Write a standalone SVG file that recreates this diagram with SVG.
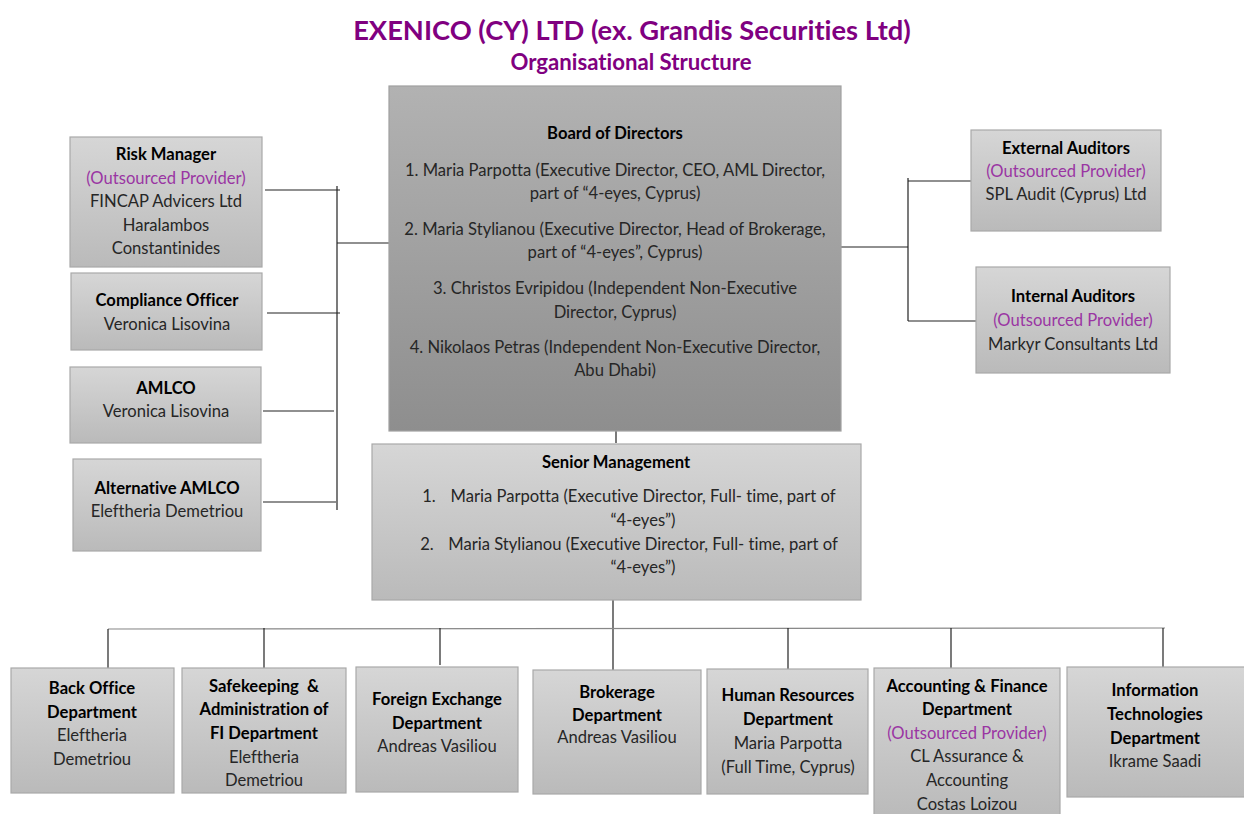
<svg xmlns="http://www.w3.org/2000/svg" width="1244" height="814" viewBox="0 0 1244 814">
<defs>
<linearGradient id="gBox" x1="0" y1="0" x2="0" y2="1">
<stop offset="0" stop-color="#d6d6d6"/>
<stop offset="1" stop-color="#bababa"/>
</linearGradient>
<linearGradient id="gBoard" x1="0" y1="0" x2="0" y2="1">
<stop offset="0" stop-color="#b2b2b2"/>
<stop offset="1" stop-color="#8e8e8e"/>
</linearGradient>
<style>
text{font-family:Lato,"Open Sans","Liberation Sans",sans-serif;font-size:16.6px;fill:#262626;text-anchor:middle;font-variant-ligatures:none;font-feature-settings:"liga" 0,"clig" 0}
.b{font-weight:bold;fill:#000}
.p{fill:#9a35a3}
.box{fill:url(#gBox);stroke:#a9a9a9;stroke-width:1.2}
.board{fill:url(#gBoard);stroke:#a0a0a0;stroke-width:1.2}
.t1{font-size:27.3px;font-weight:bold;fill:#800080}
.t2{font-size:22.2px;font-weight:bold;fill:#800080}
#connectors line{stroke:#222;stroke-width:1.2}
#connectors .g{stroke:#888}
</style>
</defs>
<rect width="1244" height="814" fill="#fff"/>
<g id="title">
<text class="t1" x="632" y="40">EXENICO (CY) LTD (ex. Grandis Securities Ltd)</text>
<text class="t2" x="631" y="70">Organisational Structure</text>
</g>
<g id="connectors">
<line x1="337" y1="186" x2="337" y2="510"/>
<line x1="265" y1="190" x2="340" y2="190"/>
<line x1="337" y1="243" x2="389" y2="243"/>
<line x1="267" y1="313" x2="340" y2="313"/>
<line x1="263" y1="411" x2="334" y2="411"/>
<line x1="263" y1="502" x2="336" y2="502"/>
<line x1="841" y1="247" x2="908" y2="247"/>
<line x1="908" y1="178" x2="908" y2="321"/>
<line x1="908" y1="181" x2="971" y2="181"/>
<line x1="908" y1="321" x2="976" y2="321"/>
<line x1="616" y1="421" x2="616" y2="443"/>
<line x1="613" y1="598" x2="613" y2="670"/>
<line class="g" x1="108" y1="629" x2="1165" y2="628"/>
<line x1="108" y1="629" x2="108" y2="668"/>
<line x1="264" y1="628" x2="264" y2="670"/>
<line x1="440" y1="628" x2="440" y2="665"/>
<line x1="788" y1="628" x2="788" y2="669"/>
<line x1="951" y1="628" x2="951" y2="668"/>
<line x1="1163" y1="628" x2="1163" y2="667"/>
</g>
<g id="board">
<rect class="board" x="389" y="86" width="452" height="345"/>
<text class="b" x="615" y="139">Board of Directors</text>
<text x="615" y="176">1. Maria Parpotta (Executive Director, CEO, AML Director,</text>
<text x="615" y="199">part of “4-eyes, Cyprus)</text>
<text x="615" y="235">2. Maria Stylianou (Executive Director, Head of Brokerage,</text>
<text x="615" y="258">part of “4-eyes”, Cyprus)</text>
<text x="615" y="294">3. Christos Evripidou (Independent Non-Executive</text>
<text x="615" y="318">Director, Cyprus)</text>
<text x="615" y="353">4. Nikolaos Petras (Independent Non-Executive Director,</text>
<text x="615" y="376">Abu Dhabi)</text>
</g>
<g id="risk">
<rect class="box" x="70" y="137" width="192" height="130"/>
<text class="b" x="166" y="160">Risk Manager</text>
<text class="p" x="166" y="184">(Outsourced Provider)</text>
<text x="166" y="207">FINCAP Advicers Ltd</text>
<text x="166" y="231">Haralambos</text>
<text x="166" y="254">Constantinides</text>
</g>
<g id="compliance">
<rect class="box" x="71" y="273" width="191" height="77"/>
<text class="b" x="167" y="306">Compliance Officer</text>
<text x="167" y="330">Veronica Lisovina</text>
</g>
<g id="amlco">
<rect class="box" x="70" y="367" width="191" height="76"/>
<text class="b" x="166" y="394">AMLCO</text>
<text x="166" y="417">Veronica Lisovina</text>
</g>
<g id="altamlco">
<rect class="box" x="73" y="459" width="188" height="92"/>
<text class="b" x="167" y="494">Alternative AMLCO</text>
<text x="167" y="517">Eleftheria Demetriou</text>
</g>
<g id="external">
<rect class="box" x="971" y="130" width="190" height="101"/>
<text class="b" x="1066" y="154">External Auditors</text>
<text class="p" x="1066" y="177">(Outsourced Provider)</text>
<text x="1066" y="200">SPL Audit (Cyprus) Ltd</text>
</g>
<g id="internal">
<rect class="box" x="976" y="267" width="194" height="106"/>
<text class="b" x="1073" y="302">Internal Auditors</text>
<text class="p" x="1073" y="326">(Outsourced Provider)</text>
<text x="1073" y="350">Markyr Consultants Ltd</text>
</g>
<g id="senior">
<rect class="box" x="372" y="444" width="489" height="156"/>
<text class="b" x="616" y="468">Senior Management</text>
<text x="429" y="502">1.</text>
<text x="643" y="502">Maria Parpotta (Executive Director, Full- time, part of</text>
<text x="643" y="526">“4-eyes”)</text>
<text x="427" y="550">2.</text>
<text x="643" y="550">Maria Stylianou (Executive Director, Full- time, part of</text>
<text x="643" y="573">“4-eyes”)</text>
</g>
<g id="backoffice">
<rect class="box" x="11" y="668" width="163" height="125"/>
<text class="b" x="92" y="694">Back Office</text>
<text class="b" x="92" y="718">Department</text>
<text x="92" y="741">Eleftheria</text>
<text x="92" y="765">Demetriou</text>
</g>
<g id="safekeeping">
<rect class="box" x="182" y="668" width="164" height="125"/>
<text class="b" x="264" y="692" xml:space="preserve">Safekeeping  &amp;</text>
<text class="b" x="264" y="715">Administration of</text>
<text class="b" x="264" y="739">FI Department</text>
<text x="264" y="763">Eleftheria</text>
<text x="264" y="786">Demetriou</text>
</g>
<g id="fx">
<rect class="box" x="356" y="667" width="162" height="125"/>
<text class="b" x="437" y="705">Foreign Exchange</text>
<text class="b" x="437" y="729">Department</text>
<text x="437" y="752">Andreas Vasiliou</text>
</g>
<g id="brokerage">
<rect class="box" x="533" y="670" width="168" height="124"/>
<text class="b" x="617" y="698">Brokerage</text>
<text class="b" x="617" y="721">Department</text>
<text x="617" y="743">Andreas Vasiliou</text>
</g>
<g id="hr">
<rect class="box" x="707" y="669" width="161" height="125"/>
<text class="b" x="788" y="701">Human Resources</text>
<text class="b" x="788" y="725">Department</text>
<text x="788" y="749">Maria Parpotta</text>
<text x="788" y="773">(Full Time, Cyprus)</text>
</g>
<g id="accounting">
<rect class="box" x="874" y="668" width="186" height="150"/>
<text class="b" x="967" y="692">Accounting &amp; Finance</text>
<text class="b" x="967" y="715">Department</text>
<text class="p" x="967" y="739">(Outsourced Provider)</text>
<text x="967" y="762">CL Assurance &amp;</text>
<text x="967" y="786">Accounting</text>
<text x="967" y="810">Costas Loizou</text>
</g>
<g id="it">
<rect class="box" x="1067" y="667" width="180" height="130"/>
<text class="b" x="1155" y="696">Information</text>
<text class="b" x="1155" y="720">Technologies</text>
<text class="b" x="1155" y="744">Department</text>
<text x="1155" y="767">Ikrame Saadi</text>
</g>
</svg>
